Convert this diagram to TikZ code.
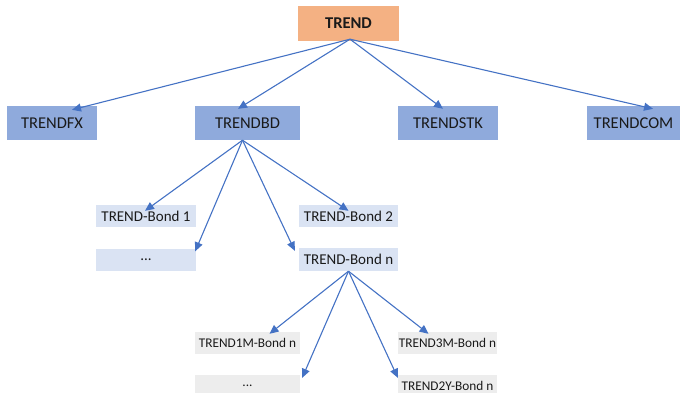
\documentclass[tikz,border=0pt]{standalone}
\usepackage{fontspec}
\setmainfont{Carlito}
\usetikzlibrary{arrows.meta}
\definecolor{orangebox}{HTML}{F4B183}
\definecolor{bluebox}{HTML}{8FAADC}
\definecolor{lightblue}{HTML}{DAE3F3}
\definecolor{lightgray}{HTML}{EDEDED}
\definecolor{arrowblue}{HTML}{4472C4}
\definecolor{txt}{HTML}{1A1A1A}
\begin{document}
\begin{tikzpicture}[x=1pt,y=-1pt,
  topbox/.style={fill=orangebox,draw=none,minimum width=101pt,minimum height=35pt,inner sep=0pt,font=\fontsize{16.5}{18}\selectfont\bfseries,text=txt},
  midbox/.style={fill=bluebox,draw=none,minimum height=34pt,inner sep=0pt,font=\fontsize{16.5}{18}\selectfont,text=txt},
  lbbox/.style={fill=lightblue,draw=none,minimum width=100pt,minimum height=22pt,inner sep=0pt,font=\fontsize{15}{17}\selectfont,text=txt},
  gybox/.style={fill=lightgray,draw=none,minimum height=22pt,inner sep=0pt,font=\fontsize{13.3}{15}\selectfont,text=txt},
  conn/.style={draw=arrowblue,line width=1.1pt,-{Triangle[length=9pt,width=8pt]}}]
\useasboundingbox (0,0) rectangle (682,393);
\node[topbox] (trend) at (348.5,23.5) {TREND};
\node[midbox,minimum width=90pt] (fx) at (52,123) {TRENDFX};
\node[midbox,minimum width=105pt] (bd) at (247.5,123) {TRENDBD};
\node[midbox,minimum width=100pt] (stk) at (448,123) {TRENDSTK};
\node[midbox,minimum width=93pt] (com) at (633.5,123) {TRENDCOM};
\node[lbbox] (b1) at (146,216) {TREND-Bond 1};
\node[lbbox] (d1) at (146,259.5) {...};
\node[lbbox,minimum width=99pt] (b2) at (348.5,216) {TREND-Bond 2};
\node[lbbox,minimum width=99pt,minimum height=23pt] (bn) at (348.5,259.5) {TREND-Bond n};
\node[gybox,minimum width=105pt] (m1) at (247.5,343) {TREND1M-Bond n};
\node[gybox,minimum width=105pt] (d2) at (247.5,386) {...};
\node[gybox,minimum width=99pt] (m3) at (447.5,343) {TREND3M-Bond n};
\node[gybox,minimum width=99pt] (y2) at (447.5,386) {TREND2Y-Bond n};
\coordinate (ts) at ([shift={(1.5,-2)}]trend.south);
\draw[conn] (ts) -- ([shift={(20,4)}]fx.north);
\draw[conn] (ts) -- ([shift={(-9.5,3)}]bd.north);
\draw[conn] (ts) -- ([shift={(-5,3)}]stk.north);
\draw[conn] (ts) -- ([shift={(19.5,3)}]com.north);
\coordinate (bs) at ([shift={(-5,0)}]bd.south);
\draw[conn] (bs) -- ([shift={(-1,6)}]b1.north);
\draw[conn] (bs) -- ([shift={(-1,3)}]d1.north east);
\draw[conn] (bs) -- ([shift={(-4,3)}]bn.north west);
\draw[conn] (bs) -- ([shift={(0,6)}]b2.north);
\coordinate (ns) at (bn.south);
\draw[conn] (ns) -- ([shift={(22,2)}]m1.north);
\draw[conn] (ns) -- ([shift={(2,3)}]d2.north east);
\draw[conn] (ns) -- ([shift={(0,3)}]y2.north west);
\draw[conn] (ns) -- ([shift={(-19,2)}]m3.north);
\end{tikzpicture}
\end{document}
